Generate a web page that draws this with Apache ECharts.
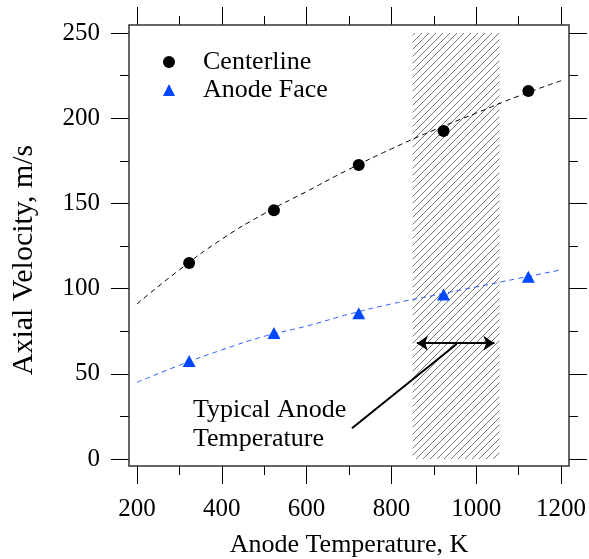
<!DOCTYPE html>
<html>
<head>
<meta charset="utf-8">
<script src="https://cdn.jsdelivr.net/npm/echarts@6/dist/echarts.min.js"></script>
<style>
  html, body { margin: 0; padding: 0; background: #fff; }
  #chart { width: 589px; height: 559px; }
</style>
</head>
<body>
<div id="chart"></div>
<script>
  // measured points
  const temps = [323, 523, 723, 923, 1123]
  const centerline = [115, 146, 172.5, 192.5, 216]
  const anodeFace = [57.5, 74, 85.5, 96.5, 107]
  // dashed trend curves, read every 100 K
  const fitTemps = [200, 300, 400, 500, 600, 700, 800, 900, 1000, 1100, 1200]
  const centerFit = [91, 111, 129, 144, 157, 170, 182, 193, 203, 213, 222]
  const anodeFit = [45, 55, 64, 72, 78, 85, 91, 96, 101, 106, 111]
  // typical anode temperature band and annotation
  const hatchRange = [850, 1055]
  const arrowRange = [860, 1043]
  const arrowLevel = 68
  const pointer = [[707, 18], [954, 67.5]]

  const font = 'Liberation Serif, Times New Roman, serif'
  const pair = (xs, ys) => xs.map((x, i) => [x, ys[i]])

  // diagonal hatch tile
  function hatch() {
    const s = 7
    const c = document.createElement('canvas')
    c.width = s
    c.height = s
    const ctx = c.getContext('2d')
    ctx.strokeStyle = '#555'
    ctx.lineWidth = 0.8
    ctx.beginPath()
    ctx.moveTo(0, s); ctx.lineTo(s, 0)
    ctx.moveTo(-1, 1); ctx.lineTo(1, -1)
    ctx.moveTo(s - 1, s + 1); ctx.lineTo(s + 1, s - 1)
    ctx.stroke()
    return c
  }

  function axisBase(extra) {
    return Object.assign({
      type: 'value',
      axisLine: { show: false, onZero: false },
      splitLine: { show: false },
      axisTick: { show: true, inside: false, length: 18, lineStyle: { color: '#000', width: 1 } },
      minorTick: { show: true, splitNumber: 2, length: 9, lineStyle: { color: '#000', width: 1 } },
      axisLabel: { show: false }
    }, extra)
  }

  const chart = echarts.init(document.getElementById('chart'))
  chart.setOption({
    animation: false,
    grid: { left: 137, right: 28, top: 33, bottom: 100 },
    legend: {
      data: ['Centerline', 'Anode Face'],
      orient: 'vertical',
      left: 163,
      top: 48,
      padding: 0,
      itemWidth: 12,
      itemHeight: 12,
      itemGap: 0,
      textStyle: { fontFamily: font, fontSize: 26, color: '#000', lineHeight: 28, padding: [0, 0, 0, 23] }
    },
    xAxis: [
      axisBase({
        position: 'bottom', offset: 7, min: 200, max: 1200, interval: 200,
        axisLabel: { show: true, margin: 31, fontFamily: font, fontSize: 25, color: '#000', formatter: v => String(v) }
      }),
      axisBase({ position: 'top', offset: 8, min: 200, max: 1200, interval: 200 })
    ],
    yAxis: [
      axisBase({
        position: 'left', offset: 8, min: 0, max: 250, interval: 50,
        axisLabel: { show: true, margin: 29, fontFamily: font, fontSize: 25, color: '#000' }
      }),
      axisBase({ position: 'right', offset: 8, min: 0, max: 250, interval: 50 })
    ],
    graphic: [
      {
        type: 'rect', z: 10, silent: true,
        shape: { x: 129, y: 25, width: 440, height: 441 },
        style: { fill: null, stroke: '#333', lineWidth: 1.5 }
      },
      {
        type: 'text', left: 193, top: 396, z: 10,
        style: { text: 'Typical Anode\nTemperature', font: '26px ' + font, lineHeight: 29, fill: '#000' }
      },
      {
        type: 'text', x: 349, y: 545, z: 10,
        style: { text: 'Anode Temperature, K', font: '26px ' + font, fill: '#000', align: 'center', verticalAlign: 'middle' }
      },
      {
        type: 'text', x: 24, y: 260, rotation: Math.PI / 2, z: 10,
        style: { text: 'Axial Velocity, m/s', font: '30px ' + font, fill: '#000', align: 'center', verticalAlign: 'middle' }
      }
    ],
    series: [
      {
        name: 'centerFit', type: 'line', data: pair(fitTemps, centerFit),
        smooth: true, symbol: 'none', silent: true, z: 3,
        lineStyle: { color: '#000', width: 1, type: [5, 4] },
        markArea: {
          silent: true,
          itemStyle: { color: { image: hatch(), repeat: 'repeat' }, opacity: 1 },
          data: [[{ xAxis: hatchRange[0], yAxis: 0 }, { xAxis: hatchRange[1], yAxis: 250 }]]
        }
      },
      {
        name: 'anodeFit', type: 'line', data: pair(fitTemps, anodeFit),
        smooth: true, symbol: 'none', silent: true, z: 3,
        lineStyle: { color: '#2b5cff', width: 1, type: [5, 4] },
        markLine: {
          silent: true, animation: false,
          label: { show: false },
          lineStyle: { color: '#000', width: 2, type: 'solid' },
          data: [
            [{ coord: [arrowRange[0], arrowLevel], symbol: 'arrow', symbolSize: 11 },
             { coord: [arrowRange[1], arrowLevel], symbol: 'arrow', symbolSize: 11 }],
            [{ coord: pointer[0], symbol: 'none' }, { coord: pointer[1], symbol: 'none' }]
          ]
        }
      },
      {
        name: 'Centerline', type: 'scatter', data: pair(temps, centerline),
        symbol: 'circle', symbolSize: 12, z: 5,
        itemStyle: { color: '#000', opacity: 1 }
      },
      {
        name: 'Anode Face', type: 'scatter', data: pair(temps, anodeFace),
        symbol: 'triangle', symbolSize: [13, 12], z: 5,
        itemStyle: { color: '#0048ff', opacity: 1 }
      }
    ]
  })
</script>
</body>
</html>
